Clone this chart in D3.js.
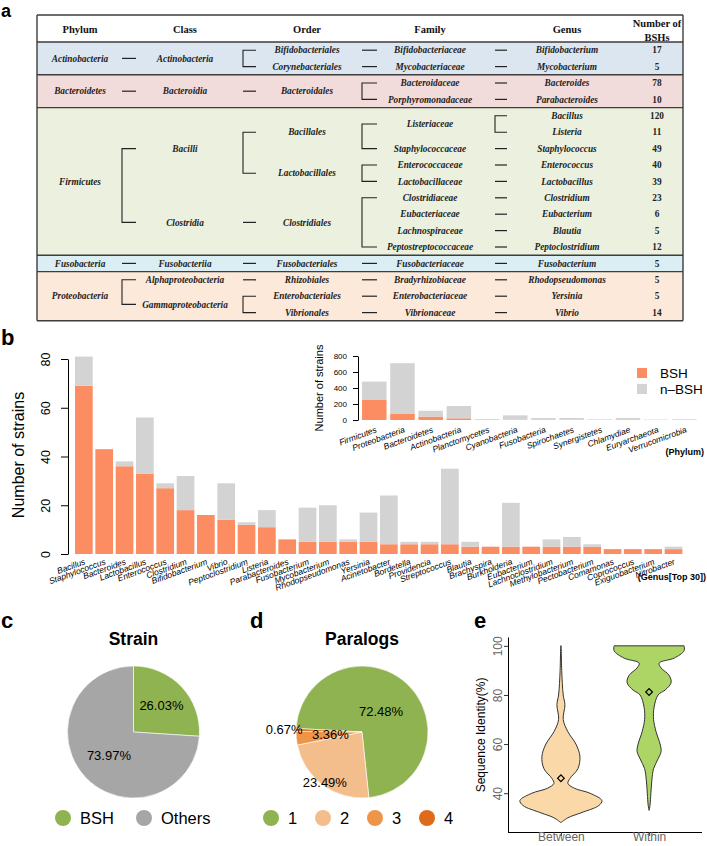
<!DOCTYPE html>
<html><head><meta charset="utf-8">
<script src="https://cdn.jsdelivr.net/npm/d3@7"></script>
<style>body{margin:0;background:#fff} svg{display:block}</style>
</head><body>
<svg id="fig" width="707" height="846"></svg>
<script>
// ================= DATA =================
// Panel a: taxonomy table
const tableGenera = ["Bifidobacterium","Mycobacterium","Bacteroides","Parabacteroides","Bacillus","Listeria","Staphylococcus","Enterococcus","Lactobacillus","Clostridium","Eubacterium","Blautia","Peptoclostridium","Fusobacterium","Rhodopseudomonas","Yersinia","Vibrio"];
const tableBSH = [17,5,78,10,120,11,49,40,39,23,6,5,12,5,5,5,14];
const families = ["Bifidobacteriaceae","Mycobacteriaceae","Bacteroidaceae","Porphyromonadaceae","Listeriaceae","Staphylococcaceae","Enterococcaceae","Lactobacillaceae","Clostridiaceae","Eubacteriaceae","Lachnospiraceae","Peptostreptococcaceae","Fusobacteriaceae","Bradyrhizobiaceae","Enterobacteriaceae","Vibrionaceae"];
const familyGenera = [[0],[1],[2],[3],[4,5],[6],[7],[8],[9],[10],[11],[12],[13],[14],[15],[16]];
const orders = ["Bifidobacteriales","Corynebacteriales","Bacteroidales","Bacillales","Lactobacillales","Clostridiales","Fusobacteriales","Rhizobiales","Enterobacteriales","Vibrionales"];
const orderFamilies = [[0],[1],[2,3],[4,5],[6,7],[8,9,10,11],[12],[13],[14],[15]];
const classes = ["Actinobacteria","Bacteroidia","Bacilli","Clostridia","Fusobacteriia","Alphaproteobacteria","Gammaproteobacteria"];
const classOrders = [[0,1],[2],[3,4],[5],[6],[7],[8,9]];
const phyla = ["Actinobacteria","Bacteroidetes","Firmicutes","Fusobacteria","Proteobacteria"];
const phylumClasses = [[0],[1],[2,3],[4],[5,6]];
const tableHeaders = ["Phylum","Class","Order","Family","Genus"];

// Panel b: genus top 30
const genusTop30 = ["Bacillus","Staphylococcus","Bacteroides","Lactobacillus","Enterococcus","Clostridium","Bifidobacterium","Vibrio","Peptoclostridium","Listeria","Parabacteroides","Fusobacterium","Mycobacterium","Rhodopseudomonas","Yersinia","Acinetobacter","Bordetella","Providencia","Streptococcus","Blautia","Brachyspira","Burkholderia","Eubacterium","Lachnoclostridium","Methylobacterium","Pectobacterium","Comamonas","Coprococcus","Exiguobacterium","Nitrobacter"];
const genusBSH   = [69,43,36,33,27,18,16,14,12,11,6,5,5,5,5,4,4,4,4,3,3,3,3,3,3,3,2,2,2,2];
const genusTotal = [81,43,38,56,29,32,16,29,13,18,6,19,20,6,17,24,5,5,35,5,3,21,3,6,7,4,2,2,2,3];
const genusTicks = [0,20,40,60,80];

// Panel b inset: phylum
const phylumNames = ["Firmicutes","Proteobacteria","Bacteroidetes","Actinobacteria","Planctomycetes","Cyanobacteria","Fusobacteria","Spirochaetes","Synergistetes","Chlamydiae","Euryarchaeota","Verrucomicrobia"];
const phylumBSH   = [250,75,42,21,5,2,5,3,2,1,2,1];
const phylumTotal = [480,710,115,175,10,58,25,25,8,25,4,10];
const phylumTicks = [0,200,400,600,800];
const barKeys = ["BSH","n\u2013BSH"];

// Panel c / d: pies
const strainLabels = ["BSH","Others"];
const strainPct = [26.03,73.97];
const paralogLabels = ["1","2","3","4"];
const paralogPct = [72.48,23.49,3.36,0.67];

// Panel e: violins (identity %, relative density)
const violinGroups = ["Between","Within"];
const betweenIdentity = [28,30,32,35,37,40,42,44,46,50,55,60,65,70,76,80,90,100];
const betweenDensity  = [0,7,20,38,41,29,13.5,7,9,17,19,15,7,2.3,4,2.3,0.8,0.3];
const withinIdentity  = [33,35,40,45,50,54,57,60,65,70,75,80,82,85,88,91,93,95,98,100];
const withinDensity   = [0,0.9,1.8,2.7,4.5,9,12,11,7,4.5,5,9,16,22,20,12,10,25,35,35];
const violinMeans = [46.1,81.2];
const identityTicks = [40,60,80,100];

// ================= DRAW =================
const svg = d3.select("#fig");
const SANS = "'Liberation Sans', Arial, Helvetica, sans-serif";
const SERIF = "'Liberation Serif', 'Times New Roman', serif";
svg.append("rect").attr("width",707).attr("height",846).attr("fill","#fff");

// panel letters
[["a",1,17,18],["b",1,345,22],["c",1,628,22],["d",250,628,22],["e",474,628,22]].forEach(([t,x,y,fs])=>{
  svg.append("text").attr("x",x).attr("y",y).text(t)
    .attr("font-family",SANS).attr("font-weight","bold").attr("font-size",fs).attr("fill","#000");
});

// ---------- Panel a ----------
(function(){
  const g = svg.append("g");
  const X0=37, X1=683, TOP=15, HEAD=42, BOT=320.8;
  const rowY = d3.scaleBand().domain(d3.range(tableGenera.length)).range([HEAD,BOT]);
  const bw = rowY.bandwidth();
  const yc = i => rowY(i)+bw/2;
  const famLeaves = f => familyGenera[f];
  const ordLeaves = o => orderFamilies[o].flatMap(famLeaves);
  const clsLeaves = c => classOrders[c].flatMap(ordLeaves);
  const phyLeaves = p => phylumClasses[p].flatMap(clsLeaves);
  const nodeY = L => d3.mean(L, yc);
  const fills = ["#dce6f1","#f2dcdb","#ebf1de","#dbeef3","#fde9d9"];
  const lineC = "#3d3d3d";

  phyla.forEach((p,i)=>{
    const L = phyLeaves(i);
    const y0 = rowY(d3.min(L)), y1 = rowY(d3.max(L))+bw;
    g.append("rect").attr("x",X0).attr("y",y0).attr("width",X1-X0).attr("height",y1-y0).attr("fill",fills[i]);
  });
  const hl = [TOP, HEAD];
  phyla.forEach((p,i)=>{ const L=phyLeaves(i); hl.push(rowY(d3.max(L))+bw); });
  hl.forEach(y=> g.append("line").attr("x1",X0).attr("x2",X1).attr("y1",y).attr("y2",y).attr("stroke",lineC).attr("stroke-width",1.4));
  [X0,X1].forEach(x=> g.append("line").attr("x1",x).attr("x2",x).attr("y1",TOP).attr("y2",BOT).attr("stroke",lineC).attr("stroke-width",1.4));

  const colX = [80,185,307,430,567];
  const countX = 657;
  tableHeaders.forEach((h,i)=> g.append("text").attr("x",colX[i]).attr("y",32.5).text(h)
    .attr("text-anchor","middle").attr("font-family",SERIF).attr("font-weight","bold").attr("font-size",10.5).attr("fill","#111"));
  g.append("text").attr("x",countX).attr("y",27).text("Number of").attr("text-anchor","middle").attr("font-family",SERIF).attr("font-weight","bold").attr("font-size",10.5).attr("fill","#111");
  g.append("text").attr("x",countX).attr("y",40.5).text("BSHs").attr("text-anchor","middle").attr("font-family",SERIF).attr("font-weight","bold").attr("font-size",10.5).attr("fill","#111");

  const cell = (x,y,t,italic=true) => g.append("text").attr("x",x).attr("y",y+3.2).text(t)
    .attr("text-anchor","middle").attr("font-family",SERIF).attr("font-weight","bold")
    .attr("font-style", italic?"italic":"normal").attr("font-size",9.3).attr("fill","#222");
  phyla.forEach((p,i)=>cell(colX[0], nodeY(phyLeaves(i)), p));
  classes.forEach((c,i)=>cell(colX[1], nodeY(clsLeaves(i)), c));
  orders.forEach((o,i)=>cell(colX[2], nodeY(ordLeaves(i)), o));
  families.forEach((f,i)=>cell(colX[3], nodeY(famLeaves(i)), f));
  tableGenera.forEach((s,i)=>cell(colX[4], yc(i), s));
  tableBSH.forEach((n,i)=>cell(countX, yc(i), n, false));

  const conn = (xa, xb, ys) => {
    if (ys.length===1) {
      g.append("line").attr("x1",xa).attr("x2",xb).attr("y1",ys[0]).attr("y2",ys[0]).attr("stroke","#222").attr("stroke-width",1.2);
    } else {
      const y0=ys[0], y1=ys[ys.length-1];
      g.append("path").attr("d",`M${xb},${y0}H${xa}V${y1}H${xb}`).attr("fill","none").attr("stroke","#222").attr("stroke-width",1.1);
    }
  };
  phylumClasses.forEach(cs=>conn(122,136, cs.map(c=>nodeY(clsLeaves(c)))));
  classOrders.forEach(os=>conn(243,256, os.map(o=>nodeY(ordLeaves(o)))));
  orderFamilies.forEach(fs=>conn(362,377, fs.map(f=>nodeY(famLeaves(f)))));
  familyGenera.forEach(gs=>conn(495,507, gs.map(yc)));
})();

// ---------- Panel b ----------
const colBSH = "#FC8D62", colN = "#D3D3D3";
(function(){
  const g = svg.append("g");
  const x = d3.scaleBand().domain(genusTop30).range([73.7,683.7]).paddingInner(0.13).paddingOuter(0.065);
  const y = d3.scaleLinear().domain([0,80]).range([554,359]);
  const rows = genusTop30.map((n,i)=>({name:n, BSH:genusBSH[i], nBSH:genusTotal[i]-genusBSH[i]}));
  const series = d3.stack().keys(["BSH","nBSH"])(rows);
  series.forEach((s,k)=>{
    g.append("g").attr("fill", k===0?colBSH:colN).selectAll("rect").data(s).join("rect")
      .attr("x",d=>x(d.data.name)).attr("width",x.bandwidth())
      .attr("y",d=>y(d[1])).attr("height",d=>y(d[0])-y(d[1]));
  });
  const ya = g.append("g").attr("transform","translate(68,0)")
    .call(d3.axisLeft(y).tickValues(genusTicks).tickSize(7).tickSizeOuter(0));
  ya.select(".domain").attr("stroke-width",1);
  ya.selectAll("text").attr("x",0).attr("y",0).attr("dy",null).attr("text-anchor","middle")
    .attr("transform","translate(-18,0) rotate(-90)").attr("font-size",12.5).attr("font-family",SANS).attr("fill","#000");
  g.append("text").attr("transform","translate(24,455) rotate(-90)").attr("text-anchor","middle")
    .text("Number of strains").attr("font-family",SANS).attr("font-size",16).attr("fill","#000");
  const xa = g.append("g").attr("transform","translate(0,554)").call(d3.axisBottom(x).tickSize(0));
  xa.select(".domain").remove();
  xa.selectAll("text").attr("x",0).attr("y",0).attr("dy",null).attr("text-anchor","end")
    .attr("transform","translate(2,10) rotate(-20)").attr("font-style","italic")
    .attr("font-size",8.5).attr("font-family",SANS).attr("fill","#000");
  g.append("text").attr("x",706).attr("y",580).attr("text-anchor","end").text("(Genus[Top 30])")
    .attr("font-family",SANS).attr("font-weight","bold").attr("font-size",9).attr("fill","#000");

  // inset
  const xi = d3.scaleBand().domain(phylumNames).range([360.2,698.4]).paddingInner(0.13).paddingOuter(0.065);
  const yi = d3.scaleLinear().domain([0,800]).range([420,356]);
  const rowsI = phylumNames.map((n,i)=>({name:n, BSH:phylumBSH[i], nBSH:phylumTotal[i]-phylumBSH[i]}));
  const seriesI = d3.stack().keys(["BSH","nBSH"])(rowsI);
  seriesI.forEach((s,k)=>{
    g.append("g").attr("fill", k===0?colBSH:colN).selectAll("rect").data(s).join("rect")
      .attr("x",d=>xi(d.data.name)).attr("width",xi.bandwidth())
      .attr("y",d=>yi(d[1])).attr("height",d=>yi(d[0])-yi(d[1]));
  });
  const yia = g.append("g").attr("transform","translate(358,0)")
    .call(d3.axisLeft(yi).tickValues(phylumTicks).tickSize(5).tickPadding(6).tickSizeOuter(0));
  yia.selectAll("text").attr("font-size",8).attr("font-family",SANS).attr("fill","#000");
  g.append("text").attr("transform","translate(323,388) rotate(-90)").attr("text-anchor","middle")
    .text("Number of strains").attr("font-family",SANS).attr("font-size",11).attr("fill","#000");
  const xia = g.append("g").attr("transform","translate(0,420)").call(d3.axisBottom(xi).tickSize(0));
  xia.select(".domain").remove();
  xia.selectAll("text").attr("x",0).attr("y",0).attr("dy",null).attr("text-anchor","end")
    .attr("transform","translate(3,12) rotate(-20)").attr("font-style","italic")
    .attr("font-size",8.5).attr("font-family",SANS).attr("fill","#000");
  g.append("text").attr("x",704).attr("y",455).attr("text-anchor","end").text("(Phylum)")
    .attr("font-family",SANS).attr("font-weight","bold").attr("font-size",9).attr("fill","#000");

  // legend
  barKeys.forEach((k,i)=>{
    g.append("rect").attr("x",637).attr("y",368+i*16).attr("width",10).attr("height",10).attr("fill", i===0?colBSH:colN);
    g.append("text").attr("x",660).attr("y",377.5+i*16).text(k).attr("font-family",SANS).attr("font-size",13.5).attr("fill","#000");
  });
})();

// ---------- Panels c & d ----------
function drawPie(cx, cy, r, values, labels, colors, startDeg, labelR, title, legendX, labelText){
  const g = svg.append("g");
  const pie = d3.pie().sort(null).value(d=>d).startAngle(startDeg*Math.PI/180).endAngle(startDeg*Math.PI/180+2*Math.PI);
  const arcs = pie(values);
  const arc = d3.arc().innerRadius(0).outerRadius(r);
  g.append("g").attr("transform",`translate(${cx},${cy})`).selectAll("path").data(arcs).join("path")
    .attr("d",arc).attr("fill",(d,i)=>colors[i]).attr("stroke","#fff").attr("stroke-width",0.6);
  arcs.forEach((a,i)=>{
    const la = d3.arc().innerRadius(labelR[i]*r).outerRadius(labelR[i]*r);
    const [lx,ly] = la.centroid(a);
    g.append("text").attr("x",cx+lx).attr("y",cy+ly+4.5).attr("text-anchor","middle")
      .text(values[i].toFixed(2)+"%").attr("font-family",SANS).attr("font-size",13).attr("fill","#000");
  });
  g.append("text").attr("x",cx).attr("y",645).attr("text-anchor","middle").text(title)
    .attr("font-family",SANS).attr("font-weight","bold").attr("font-size",17.5).attr("fill","#000");
  labels.forEach((l,i)=>{
    g.append("circle").attr("cx",legendX[i]).attr("cy",818).attr("r",8).attr("fill",colors[i]);
    g.append("text").attr("x",legendX[i]+labelText).attr("y",824).text(l)
      .attr("font-family",SANS).attr("font-size",16.5).attr("fill","#000");
  });
}
drawPie(133.5, 732, 66, strainPct, strainLabels, ["#8FB350","#A6A6A6"], 0, [0.58,0.51], "Strain", [63,144], 17);
drawPie(362, 732, 66, paralogPct, paralogLabels, ["#8FB350","#F4BD8C","#EF954A","#DE6B1C"], -86.9, [0.42,0.95,0.48,1.18], "Paralogs", [271,323,375,427], 17);

// ---------- Panel e ----------
(function(){
  const g = svg.append("g");
  const x = d3.scalePoint().domain(violinGroups).range([508,702]).padding(0.6);
  const y = d3.scaleLinear().domain([24.2,103.6]).range([832,637]);
  const w = d3.scaleLinear().domain([0,41]).range([0,41]);
  const data = [
    betweenIdentity.map((v,i)=>[v,betweenDensity[i]]),
    withinIdentity.map((v,i)=>[v,withinDensity[i]])
  ];
  const fills = ["#FAD8A7","#ADD566"];
  violinGroups.forEach((grp,k)=>{
    const cx = x(grp);
    const area = d3.area().curve(d3.curveCatmullRom.alpha(0.5))
      .y(d=>y(d[0])).x0(d=>cx-w(d[1])).x1(d=>cx+w(d[1]));
    g.append("path").attr("d",area(data[k])).attr("fill",fills[k]).attr("stroke","#333").attr("stroke-width",1);
    g.append("path").attr("d",d3.symbol(d3.symbolSquare,22)())
      .attr("transform",`translate(${cx},${y(violinMeans[k])}) rotate(45)`)
      .attr("fill","none").attr("stroke","#000").attr("stroke-width",1.2);
  });
  const ya = g.append("g").attr("transform","translate(508,0)")
    .call(d3.axisLeft(y).tickValues(identityTicks).tickSize(4).tickSizeOuter(0));
  ya.selectAll("text").attr("x",0).attr("y",0).attr("dy",null).attr("text-anchor","middle")
    .attr("transform","translate(-6,0) rotate(-90)").attr("font-size",12).attr("font-family",SANS).attr("fill","#666");
  ya.selectAll(".tick line").attr("stroke","#333");
  const xa = g.append("g").attr("transform","translate(0,832)")
    .call(d3.axisBottom(x).tickSize(4).tickSizeOuter(0));
  xa.select(".domain").attr("d","M508,0.5H702");
  xa.selectAll("text").attr("y",9).attr("dy",null)
    .attr("font-size",12).attr("font-family",SANS).attr("fill","#666");
  xa.selectAll(".tick line").attr("stroke","#333");
  g.append("text").attr("transform","translate(485,735) rotate(-90)").attr("text-anchor","middle")
    .text("Sequence Identity(%)").attr("font-family",SANS).attr("font-size",12).attr("fill","#000");
})();
</script>
</body></html>
